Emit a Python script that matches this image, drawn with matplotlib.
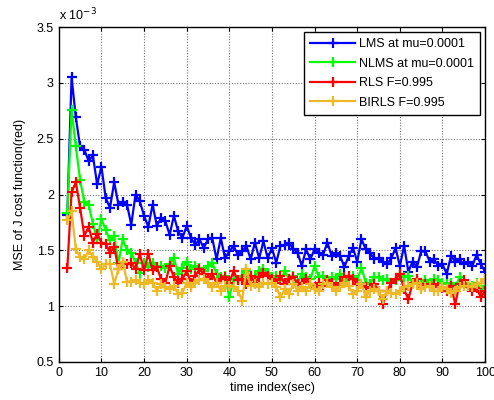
import numpy as np
from matplotlib import pyplot as plt
from matplotlib.ticker import FormatStrFormatter

# time index 2..100, MSE values in units of 1e-3
t = np.arange(2, 101)

lms = [1.82, 3.05, 2.69, 2.43, 2.40, 2.30, 2.35, 2.09, 2.25, 1.97, 1.88, 2.11, 1.91, 1.93, 1.91, 1.73, 2.00, 1.94, 1.81, 1.71, 1.91, 1.72,
       1.79, 1.76, 1.64, 1.81, 1.67, 1.61, 1.72, 1.61, 1.55, 1.60, 1.52, 1.60, 1.61, 1.42, 1.61, 1.43, 1.49, 1.54, 1.46, 1.49, 1.54, 1.42, 1.57, 1.43, 1.58, 1.43,
       1.52, 1.39, 1.54, 1.55, 1.57, 1.51, 1.48, 1.36, 1.51, 1.42, 1.51, 1.48, 1.46, 1.57, 1.45, 1.48, 1.45, 1.35, 1.45, 1.52, 1.40, 1.60, 1.51, 1.48, 1.42,
       1.43, 1.40, 1.375, 1.43, 1.52, 1.36, 1.54, 1.31, 1.40, 1.35, 1.49, 1.49, 1.40, 1.42, 1.36, 1.375, 1.29, 1.45, 1.40, 1.42, 1.375, 1.40, 1.36, 1.46, 1.375, 1.31]

nlms = [1.83, 2.76, 2.43, 2.13, 1.93, 1.91, 1.74, 1.60, 1.78, 1.68, 1.59, 1.63, 1.39, 1.60, 1.50, 1.48, 1.39, 1.30, 1.39, 1.35, 1.39, 1.35,
        1.36, 1.345, 1.375, 1.43, 1.29, 1.345, 1.40, 1.33, 1.36, 1.345, 1.315, 1.36, 1.39, 1.29, 1.26, 1.27, 1.08, 1.24, 1.23, 1.27, 1.315, 1.26, 1.27, 1.315, 1.33, 1.30,
        1.26, 1.27, 1.23, 1.315, 1.24, 1.27, 1.21, 1.29, 1.26, 1.24, 1.36, 1.26, 1.27, 1.23, 1.26, 1.24, 1.29, 1.21, 1.24, 1.27, 1.23, 1.345, 1.21, 1.20, 1.26,
        1.26, 1.23, 1.24, 1.21, 1.23, 1.29, 1.26, 1.27, 1.21, 1.21, 1.20, 1.23, 1.21, 1.24, 1.23, 1.21, 1.20, 1.21, 1.17, 1.26, 1.21, 1.20, 1.18, 1.21, 1.14, 1.18]

rls = [1.34, 2.02, 2.11, 1.88, 1.63, 1.71, 1.57, 1.65, 1.57, 1.56, 1.48, 1.53, 1.33, 1.39, 1.38, 1.39, 1.33, 1.47, 1.32, 1.47, 1.32, 1.35,
       1.24, 1.21, 1.36, 1.26, 1.21, 1.24, 1.315, 1.21, 1.27, 1.33, 1.29, 1.24, 1.29, 1.21, 1.24, 1.26, 1.21, 1.315, 1.23, 1.24, 1.20, 1.27, 1.21, 1.26, 1.30, 1.27,
       1.24, 1.21, 1.27, 1.20, 1.24, 1.26, 1.20, 1.21, 1.24, 1.20, 1.17, 1.21, 1.18, 1.23, 1.21, 1.17, 1.21, 1.26, 1.27, 1.24, 1.20, 1.20, 1.17, 1.16, 1.20,
       1.14, 1.02, 1.14, 1.21, 1.24, 1.29, 1.15, 1.06, 1.21, 1.24, 1.17, 1.20, 1.18, 1.20, 1.17, 1.16, 1.14, 1.18, 1.02, 1.20, 1.23, 1.17, 1.14, 1.16, 1.08, 1.14]

birls = [1.77, 1.85, 1.51, 1.44, 1.42, 1.50, 1.44, 1.40, 1.33, 1.38, 1.38, 1.20, 1.33, 1.40, 1.22, 1.22, 1.23, 1.21, 1.20, 1.23, 1.21, 1.14,
         1.20, 1.17, 1.15, 1.18, 1.11, 1.12, 1.21, 1.17, 1.21, 1.23, 1.24, 1.21, 1.17, 1.21, 1.14, 1.18, 1.18, 1.17, 1.14, 1.05, 1.33, 1.18, 1.20, 1.17, 1.21, 1.20,
         1.21, 1.17, 1.08, 1.15, 1.11, 1.20, 1.14, 1.17, 1.14, 1.20, 1.15, 1.14, 1.20, 1.21, 1.17, 1.14, 1.17, 1.21, 1.18, 1.11, 1.14, 1.20, 1.08, 1.14, 1.15,
         1.14, 1.06, 1.14, 1.12, 1.11, 1.14, 1.17, 1.18, 1.20, 1.21, 1.15, 1.17, 1.18, 1.14, 1.14, 1.17, 1.15, 1.12, 1.14, 1.17, 1.18, 1.18, 1.17, 1.20, 1.21, 1.24]

labels = ['LMS at mu=0.0001', 'NLMS at mu=0.0001', 'RLS F=0.995', 'BIRLS F=0.995']
colors = ['#0000ff', '#00ff00', '#ff0000', '#edb927']

plt.rcParams['font.family'] = ['Liberation Sans', 'DejaVu Sans']

fig = plt.figure(figsize=(4.94, 4.0), dpi=100)
ax = fig.add_axes([0.119, 0.095, 0.863, 0.8375])

for ys, lab, c in zip([lms, nlms, rls, birls], labels, colors):
	ax.plot(t, ys, color=c, lw=1.6, marker='+', ms=7, mew=1.6, label=lab)

ax.set_xlim(0, 100)
ax.set_ylim(0.5, 3.5)
ax.set_xticks(np.arange(0, 101, 10))
ax.set_yticks(np.arange(0.5, 3.51, 0.5))
ax.yaxis.set_major_formatter(FormatStrFormatter('%g'))
ax.tick_params(direction='in', top=True, right=True, labelsize=9, length=3)
ax.grid(True, linestyle=(0, (1, 1.5)), color='0.45', lw=0.8)
for s in ax.spines.values():
	s.set_linewidth(1)

ax.set_xlabel('time index(sec)', fontsize=9, labelpad=2)
ax.set_ylabel('MSE of J cost function(red)', fontsize=9, labelpad=8)
ax.text(0.0, 1.012, r'x 10$^{-3}$', transform=ax.transAxes, fontsize=9, ha='left', va='bottom')

leg = ax.legend(loc='upper right', fontsize=9, fancybox=False, framealpha=1, edgecolor='k',
                handlelength=3.6, borderaxespad=0.4, labelspacing=0.6, handletextpad=0.3, borderpad=0.5)
leg.get_frame().set_linewidth(1)

fig.savefig('out.png', dpi=100)
